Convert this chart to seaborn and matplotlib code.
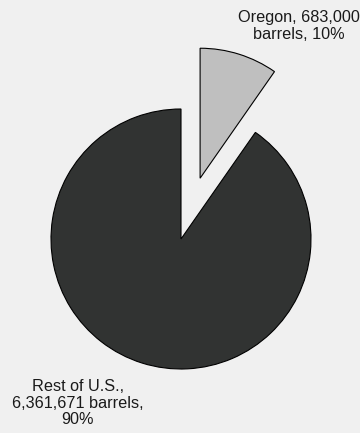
import matplotlib
matplotlib.use("Agg")
import matplotlib.pyplot as plt
import seaborn as sns

# Barrels by region
regions = ["Oregon", "Rest of U.S."]
barrels = [683000, 6361671]
label_texts = ["Oregon, 683,000\nbarrels, 10%", "Rest of U.S.,\n6,361,671 barrels,\n90%"]
wedge_colors = ["#bfbfbf", "#313332"]

sns.set_theme(style="white")
plt.rcParams["font.family"] = ["Liberation Sans", "DejaVu Sans"]

bg = "#f0f0f0"
W, H = 360, 433
fig = plt.figure(figsize=(W / 100, H / 100), dpi=100, facecolor=bg)
ax = fig.add_axes([0, 0, 1, 1])
ax.set_facecolor(bg)

ax.pie(barrels, colors=wedge_colors, startangle=90, counterclock=False,
       explode=[0.49, 0], radius=1.0,
       wedgeprops=dict(edgecolor="black", linewidth=0.8))

# one data unit = 130 px, pie centre at (181, 239) px from top-left
scale = 130.0
cx, cy = 181, 239
ax.set_aspect("auto")
ax.set_xlim(-cx / scale, (W - cx) / scale)
ax.set_ylim(-(H - cy) / scale, cy / scale)
ax.axis("off")

ax.text((299 - cx) / scale, (cy - 26) / scale, label_texts[0], ha="center", va="center",
        fontsize=11.7, color="#1a1a1a", linespacing=1.12)
ax.text((78 - cx) / scale, (cy - 403) / scale, label_texts[1], ha="center", va="center",
        fontsize=11.7, color="#1a1a1a", linespacing=1.12)

fig.savefig("out.png", dpi=100, facecolor=bg)
